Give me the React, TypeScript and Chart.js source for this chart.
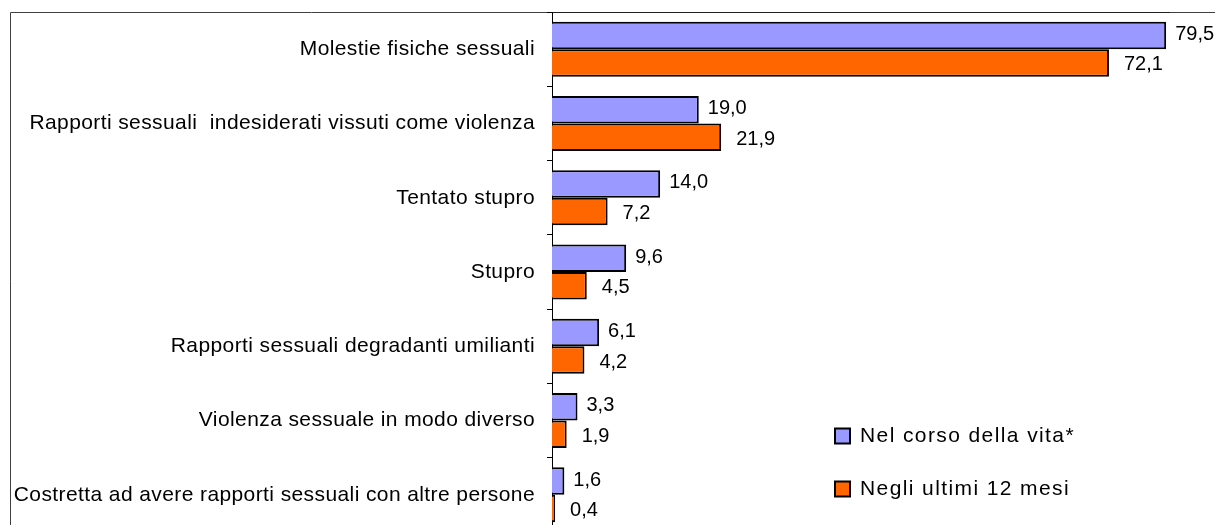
import React, { useEffect, useRef } from "react";
import { Chart, registerables } from "chart.js";

Chart.register(...registerables);

const categories = [
  "Molestie fisiche sessuali",
  "Rapporti sessuali  indesiderati vissuti come violenza",
  "Tentato stupro",
  "Stupro",
  "Rapporti sessuali degradanti umilianti",
  "Violenza sessuale in modo diverso",
  "Costretta ad avere rapporti sessuali con altre persone",
];
const seriesLifetime = [79.5, 19.0, 14.0, 9.6, 6.1, 3.3, 1.6];
const seriesLast12 = [72.1, 21.9, 7.2, 4.5, 4.2, 1.9, 0.4];
const seriesNames = ["Nel corso della vita*", "Negli ultimi 12 mesi"];
const seriesColors = ["#9999FF", "#FF6600"];
const xMax = 80;

const FONT = "'Liberation Sans', Arial, sans-serif";
const CW = 1215;
const CH = 550;
const LABEL_SPACING = "0.4px";

const spacingPlugin = {
  id: "spacing",
  beforeLayout(chart: any) {
    chart.ctx.letterSpacing = LABEL_SPACING;
  },
  beforeDraw(chart: any) {
    chart.ctx.letterSpacing = LABEL_SPACING;
  },
};

const framePlugin = {
  id: "frame",
  beforeDraw(chart: any) {
    const { ctx, chartArea } = chart;
    ctx.save();
    ctx.strokeStyle = "#404040";
    ctx.lineWidth = 1;
    ctx.beginPath();
    ctx.moveTo(10.5, CH);
    ctx.lineTo(10.5, 12.5);
    ctx.lineTo(CW, 12.5);
    ctx.stroke();
    ctx.strokeStyle = "#202020";
    ctx.beginPath();
    ctx.moveTo(chartArea.left, 12.5);
    ctx.lineTo(chartArea.right, 12.5);
    ctx.stroke();
    ctx.restore();
  },
};

const labelPlugin = {
  id: "valueLabels",
  afterDatasetsDraw(chart: any) {
    const { ctx } = chart;
    ctx.save();
    ctx.letterSpacing = "0px";
    ctx.font = `20px ${FONT}`;
    ctx.fillStyle = "#000";
    ctx.textAlign = "left";
    ctx.textBaseline = "middle";
    chart.data.datasets.forEach((ds: any, di: number) => {
      const meta = chart.getDatasetMeta(di);
      meta.data.forEach((bar: any, i: number) => {
        const v = ds.data[i] as number;
        const txt = v.toFixed(1).replace(".", ",");
        const dx = di === 0 ? 9 : 15;
        const dy = di === 0 ? -1 : 2;
        ctx.fillText(txt, bar.x + dx, bar.y + dy);
      });
    });
    ctx.restore();
  },
};

const legendPlugin = {
  id: "customLegend",
  afterDraw(chart: any) {
    const { ctx } = chart;
    ctx.save();
    ctx.letterSpacing = "1.4px";
    ctx.font = `21px ${FONT}`;
    ctx.textBaseline = "middle";
    ctx.textAlign = "left";
    const ys = [435.5, 488.5];
    chart.data.datasets.forEach((ds: any, di: number) => {
      const y = ys[di];
      ctx.fillStyle = ds.backgroundColor;
      ctx.fillRect(835, y - 7, 15, 15);
      ctx.strokeStyle = "#000";
      ctx.lineWidth = 2;
      ctx.strokeRect(835, y - 7, 15, 15);
      ctx.fillStyle = "#000";
      ctx.fillText(ds.label, 860, y + 1);
    });
    ctx.restore();
  },
};

export default function App() {
  const ref = useRef<HTMLCanvasElement>(null);
  useEffect(() => {
    document.body.style.margin = "0";
    document.body.style.overflow = "hidden";
    const chart = new Chart(ref.current!, {
      type: "bar",
      data: {
        labels: categories,
        datasets: [
          {
            label: seriesNames[0],
            data: seriesLifetime,
            backgroundColor: seriesColors[0],
            borderColor: "#000",
            borderWidth: 2,
            categoryPercentage: 0.74,
            barPercentage: 1,
          },
          {
            label: seriesNames[1],
            data: seriesLast12,
            backgroundColor: seriesColors[1],
            borderColor: "#000",
            borderWidth: 2,
            categoryPercentage: 0.74,
            barPercentage: 1,
          },
        ],
      },
      options: {
        indexAxis: "y",
        animation: false,
        responsive: false,
        maintainAspectRatio: false,
        layout: { padding: { left: 0, top: 12, right: CW - 1170, bottom: CH - 532 } },
        plugins: { legend: { display: false }, tooltip: { enabled: false } },
        scales: {
          x: { display: false, min: 0, max: xMax },
          y: {
            afterFit(scale: any) {
              scale.width = 552;
              scale.paddingTop = 0;
              scale.paddingBottom = 0;
            },
            grid: {
              drawOnChartArea: false,
              drawTicks: true,
              tickLength: 5,
              color: "#000",
              offset: true,
            },
            border: { display: true, color: "#000", width: 1 },
            ticks: {
              color: "#000",
              padding: 12,
              font: { family: FONT, size: 21 },
            },
          },
        },
      },
      plugins: [spacingPlugin, framePlugin, labelPlugin, legendPlugin],
    });
    return () => chart.destroy();
  }, []);
  return (
    <div style={{ position: "absolute", left: 0, top: 0 }}>
      <canvas ref={ref} width={CW} height={CH} style={{ width: CW, height: CH, display: "block" }} />
    </div>
  );
}
